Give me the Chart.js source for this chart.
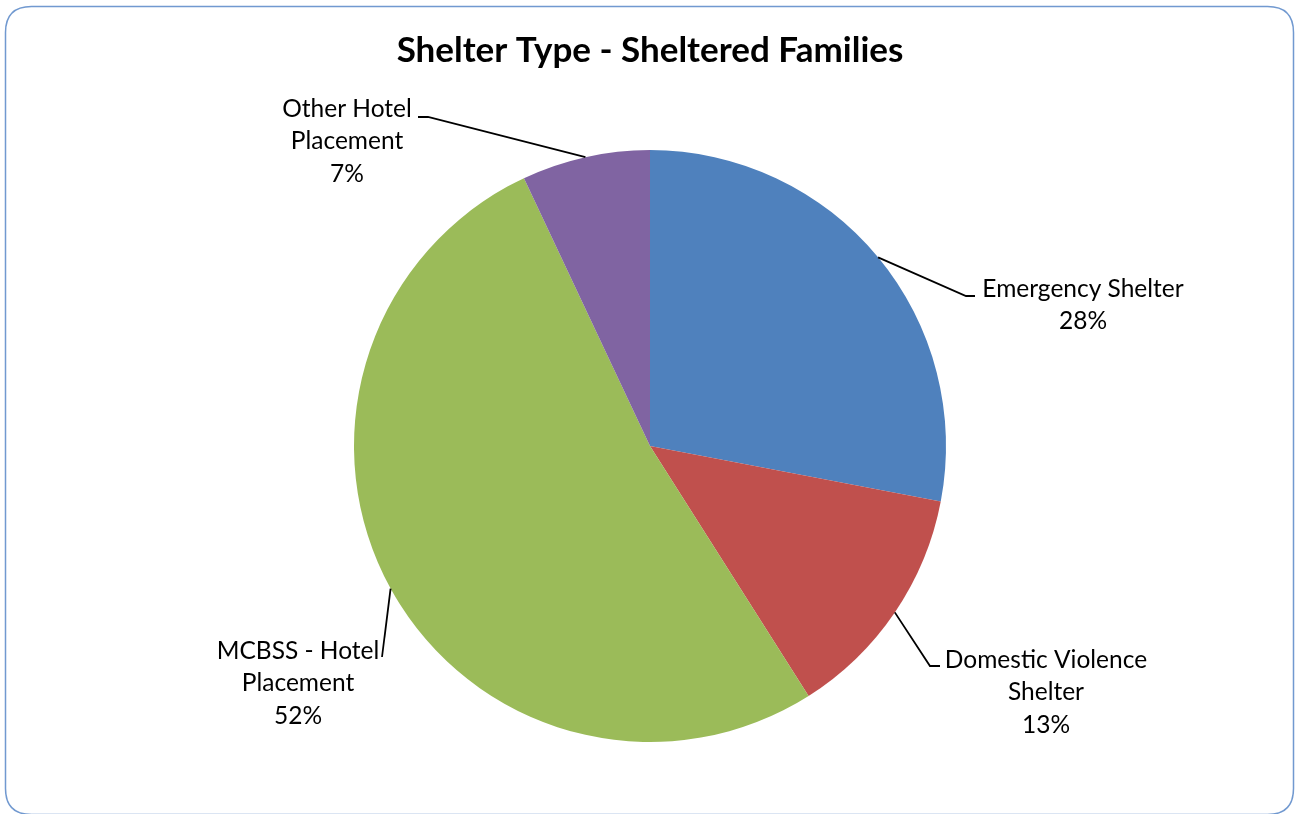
<!DOCTYPE html>
<html>
<head>
<meta charset="utf-8">
<title>Shelter Type - Sheltered Families</title>
<script src="https://cdn.jsdelivr.net/npm/chart.js@4/dist/chart.umd.min.js"></script>
<style>
  html, body { margin: 0; padding: 0; background: #fff; }
  #wrap { width: 1296px; height: 814px; }
</style>
</head>
<body>
<div id="wrap"><canvas id="shelter-chart" width="1296" height="814"></canvas></div>
<script>
const chartTitle = 'Shelter Type - Sheltered Families';
const categories = [
  ['Emergency Shelter'],
  ['Domestic Violence', 'Shelter'],
  ['MCBSS - Hotel', 'Placement'],
  ['Other Hotel', 'Placement']
];
const percentages = [28, 13, 52, 7];
const colors = ['#4F81BD', '#C0504D', '#9BBB59', '#8064A2'];

// where each label block sits and where its leader line bends
const labelLayout = [
  { cx: 1083, top: 288, elbow: [966, 296], tip: [975, 296] },
  { cx: 1046, top: 659, elbow: [930, 666], tip: [940, 666] },
  { cx: 298,  top: 650, elbow: [382, 657], tip: null },
  { cx: 347,  top: 108, elbow: [428, 117], tip: [418, 117] }
];

const FONT = 'Lato, "Noto Sans", sans-serif';

function roundRect(ctx, x, y, w, h, r) {
  ctx.beginPath();
  ctx.moveTo(x + r, y);
  ctx.lineTo(x + w - r, y);
  ctx.quadraticCurveTo(x + w, y, x + w, y + r);
  ctx.lineTo(x + w, y + h - r);
  ctx.quadraticCurveTo(x + w, y + h, x + w - r, y + h);
  ctx.lineTo(x + r, y + h);
  ctx.quadraticCurveTo(x, y + h, x, y + h - r);
  ctx.lineTo(x, y + r);
  ctx.quadraticCurveTo(x, y, x + r, y);
  ctx.closePath();
}

const frameAndLabels = {
  id: 'frameAndLabels',
  beforeDraw(chart) {
    const ctx = chart.ctx;
    ctx.save();
    ctx.fillStyle = '#ffffff';
    ctx.fillRect(0, 0, chart.width, chart.height);
    roundRect(ctx, 5.5, 6.5, 1288, 808, 26);
    ctx.strokeStyle = '#7199d0';
    ctx.lineWidth = 1.5;
    ctx.stroke();
    ctx.restore();
  },
  afterDraw(chart) {
    const ctx = chart.ctx;
    const meta = chart.getDatasetMeta(0);
    ctx.save();

    // title
    ctx.fillStyle = '#000';
    ctx.font = 'bold 35px ' + FONT;
    ctx.textAlign = 'center';
    ctx.textBaseline = 'middle';
    ctx.fillText(chartTitle, 650, 51);

    meta.data.forEach((arc, i) => {
      const p = arc.getProps(['x', 'y', 'startAngle', 'endAngle', 'outerRadius'], true);
      const mid = (p.startAngle + p.endAngle) / 2;
      const sx = p.x + Math.cos(mid) * p.outerRadius;
      const sy = p.y + Math.sin(mid) * p.outerRadius;
      const lay = labelLayout[i];

      // leader line
      ctx.beginPath();
      ctx.moveTo(sx, sy);
      ctx.lineTo(lay.elbow[0], lay.elbow[1]);
      if (lay.tip) ctx.lineTo(lay.tip[0], lay.tip[1]);
      ctx.strokeStyle = '#000';
      ctx.lineWidth = 1.8;
      ctx.stroke();

      // label text: category lines followed by the percentage
      const lines = categories[i].concat([percentages[i] + '%']);
      ctx.font = '24.5px ' + FONT;
      ctx.fillStyle = '#000';
      lines.forEach((t, j) => {
        ctx.fillText(t, lay.cx, lay.top + 1 + j * 32.5);
      });
    });
    ctx.restore();
  }
};

new Chart(document.getElementById('shelter-chart'), {
  type: 'pie',
  data: {
    labels: categories,
    datasets: [{
      data: percentages,
      backgroundColor: colors,
      borderWidth: 0
    }]
  },
  options: {
    responsive: false,
    animation: false,
    layout: { padding: { top: 150, bottom: 72, left: 354, right: 350 } },
    plugins: {
      legend: { display: false },
      tooltip: { enabled: false },
      title: { display: false }
    }
  },
  plugins: [frameAndLabels]
});
</script>
</body>
</html>
